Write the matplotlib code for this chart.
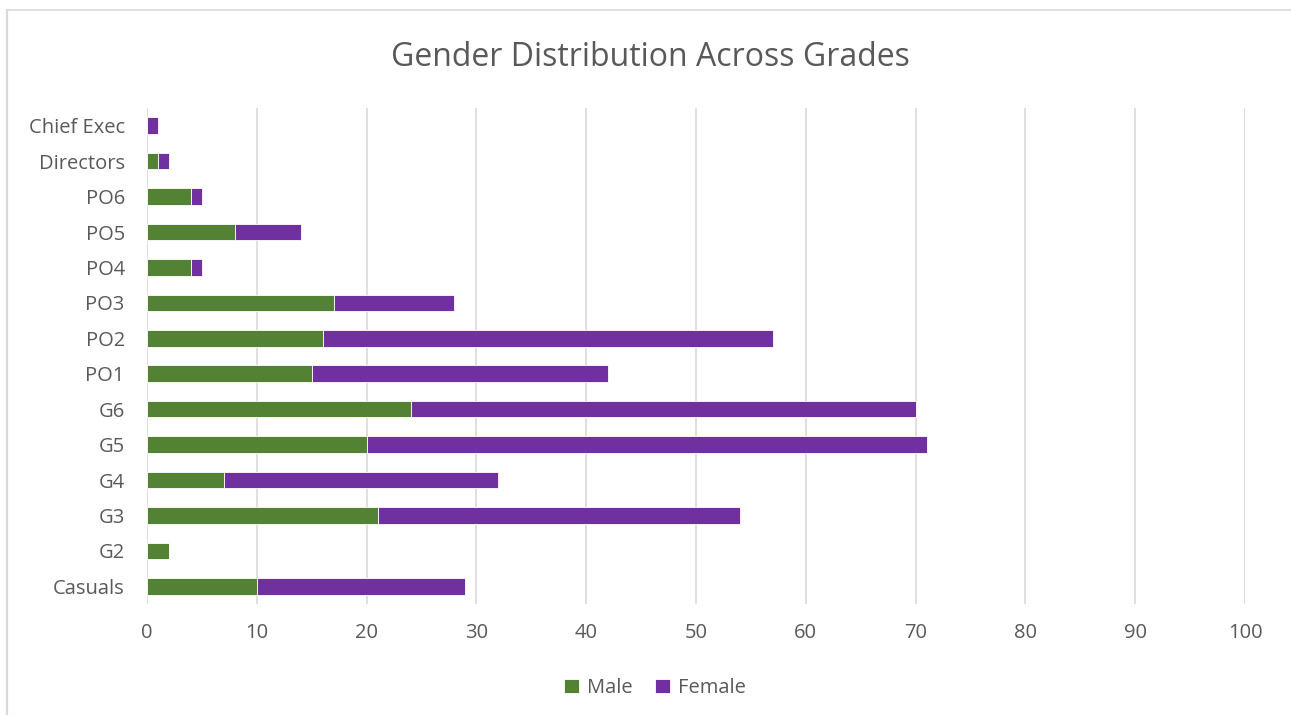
import matplotlib
matplotlib.use("Agg")
import matplotlib.pyplot as plt
from matplotlib.lines import Line2D

categories = ["Casuals", "G2", "G3", "G4", "G5", "G6", "PO1", "PO2", "PO3",
              "PO4", "PO5", "PO6", "Directors", "Chief Exec"]
male = [10, 2, 21, 7, 20, 24, 15, 16, 17, 4, 8, 4, 1, 0]
female = [19, 0, 33, 25, 51, 46, 27, 41, 11, 1, 6, 1, 1, 1]
xticks = [0, 10, 20, 30, 40, 50, 60, 70, 80, 90, 100]

plt.rcParams['font.family'] = ['Open Sans', 'DejaVu Sans']
txt = '#595959'
green = '#548235'
purple = '#7030A0'

W, H = 1291, 715
fig = plt.figure(figsize=(12.91, 7.15), dpi=100)
# chart-area border (left and top edges visible)
fig.lines.append(Line2D([7/W, 7/W], [0, 1-10/H], transform=fig.transFigure, color='#D9D9D9', linewidth=1.6))
fig.lines.append(Line2D([7/W, 1], [1-10/H, 1-10/H], transform=fig.transFigure, color='#D9D9D9', linewidth=1.2))

ax = fig.add_axes([147/W, 1-604/H, (1245-147)/W, (604-108)/H])

y = list(range(len(categories)))
ax.barh(y, male, height=0.47, color=green, edgecolor='white', linewidth=0.6, label='Male', zorder=3)
ax.barh(y, female, left=male, height=0.47, color=purple, edgecolor='white', linewidth=0.6, label='Female', zorder=3)

ax.set_xlim(0, 100)
ax.set_ylim(-0.5, len(categories) - 0.5)
ax.set_xticks(xticks)
ax.set_yticks(y)
ax.set_yticklabels(categories)
ax.grid(axis='x', color='#D9D9D9', linewidth=1.2, zorder=0)
for s in ax.spines.values():
    s.set_visible(False)
ax.tick_params(axis='both', length=0, labelsize=14.5, colors=txt)
ax.tick_params(axis='y', pad=16)
ax.tick_params(axis='x', pad=14)

fig.text(650/W, 1-57/H, "Gender Distribution Across Grades", ha='center', va='center',
         fontsize=23, color=txt)
leg = fig.legend(loc='center', bbox_to_anchor=(655/W, 1-688/H), ncol=2, frameon=False,
                 fontsize=14.5, handlelength=0.75, handleheight=0.75, handletextpad=0.4,
                 columnspacing=1.1, labelcolor=txt)

fig.savefig("out.png", dpi=100)
